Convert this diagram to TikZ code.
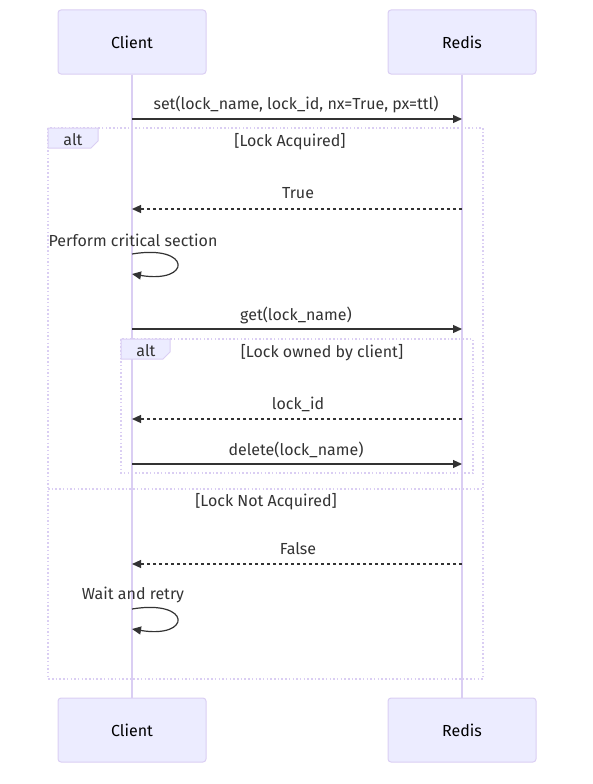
\documentclass[tikz,border=0pt]{standalone}
\usepackage{fontspec}
\setmainfont{Fira Sans}
\usetikzlibrary{arrows.meta}
\definecolor{actorfill}{HTML}{ECECFF}
\definecolor{actorline}{HTML}{DACEF3}
\definecolor{ink}{HTML}{333333}
\begin{document}
\begin{tikzpicture}[x=1pt,y=-1pt,
  actor/.style={draw=actorline, fill=actorfill, line width=1pt, rounded corners=3pt,
    minimum width=148pt, minimum height=64pt, inner sep=0pt, font=\fontsize{16}{18}\selectfont, text=black},
  life/.style={draw=actorline, line width=1.8pt},
  msg/.style={draw=ink, line width=1.2pt, -{Triangle[length=9pt,width=8pt]}},
  reply/.style={msg, dash pattern=on 3pt off 3pt},
  lbl/.style={font=\fontsize{16}{18}\selectfont, text=ink, inner sep=0pt},
  frame/.style={draw=actorline, line width=1.5pt, dash pattern=on 1.5pt off 2.2pt},
  tab/.style={draw=actorline, fill=actorfill, line width=1pt}
]
\useasboundingbox (0,0) rectangle (593,784);
% actors
\node[actor] (ct) at (132,42) {Client};
\node[actor] (rt) at (462,42) {Redis};
\node[actor] (cb) at (132,730) {Client};
\node[actor] (rb) at (462,730) {Redis};
\draw[life] (ct.south) -- (cb.north);
\draw[life] (rt.south) -- (rb.north);
% outer alt frame
\draw[frame] (48,128) rectangle (483,679);
\draw[tab] (48,128) -- (98,128) -- (98,141) -- (91,148) -- (48,148) -- cycle;
\node[lbl] (alt1) at (73,140) {alt};
\node[lbl] (cond1) at (290,142) {[Lock Acquired]};
\draw[frame] (48,489) -- (483,489);
\node[lbl] (cond2) at (266,502) {[Lock Not Acquired]};
% inner alt frame
\draw[frame] (121,339) rectangle (473,473);
\draw[tab] (121,339) -- (170,339) -- (170,352) -- (163,359) -- (121,359) -- cycle;
\node[lbl] (alt2) at (146,351) {alt};
\node[lbl] (cond3) at (322,353) {[Lock owned by client]};
% lifeline points
\coordinate (c1) at (132,119); \coordinate (r1) at (462,119);
\coordinate (c2) at (132,209); \coordinate (r2) at (462,209);
\coordinate (c3a) at (132,254); \coordinate (c3b) at (132,274);
\coordinate (c4) at (132,329); \coordinate (r4) at (462,329);
\coordinate (c5) at (132,419); \coordinate (r5) at (462,419);
\coordinate (c6) at (132,464); \coordinate (r6) at (462,464);
\coordinate (c7) at (132,564); \coordinate (r7) at (462,564);
\coordinate (c8a) at (132,609); \coordinate (c8b) at (132,629);
% messages
\node[lbl] (m1) at (296,104) {set(lock\_name, lock\_id, nx=True, px=ttl)};
\draw[msg] (c1) -- (r1);
\node[lbl] (m2) at (298,193) {True};
\draw[reply] (r2) -- (c2);
\node[lbl] (m3) at (133,240) {Perform critical section};
\draw[msg] (c3a) .. controls (192,244) and (192,284) .. (c3b);
\node[lbl] (m4) at (296,315) {get(lock\_name)};
\draw[msg] (c4) -- (r4);
\node[lbl] (m5) at (298,404) {lock\_id};
\draw[reply] (r5) -- (c5);
\node[lbl] (m6) at (296,450) {delete(lock\_name)};
\draw[msg] (c6) -- (r6);
\node[lbl] (m7) at (298,549) {False};
\draw[reply] (r7) -- (c7);
\node[lbl] (m8) at (133,595) {Wait and retry};
\draw[msg] (c8a) .. controls (192,599) and (192,639) .. (c8b);
\end{tikzpicture}
\end{document}
